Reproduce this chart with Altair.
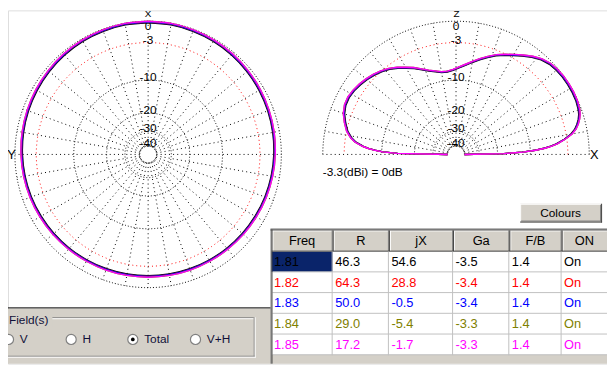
import altair as alt
import numpy as np
import pandas as pd

# ---------------- data ----------------
freqs = ["1.81", "1.82", "1.83", "1.84", "1.85"]
series_colors = ["#000000", "#ff0000", "#0000ff", "#808000", "#ff00ff"]
headers = ["Freq", "R", "jX", "Ga", "F/B", "ON"]
R_vals = ["46.3", "64.3", "50.0", "29.0", "17.2"]
jX_vals = ["54.6", "28.8", "-0.5", "-5.4", "-1.7"]
Ga_vals = ["-3.5", "-3.4", "-3.4", "-3.3", "-3.3"]
FB_vals = ["1.4", "1.4", "1.4", "1.4", "1.4"]
ON_vals = ["On", "On", "On", "On", "On"]
ref_gain = -3.3  # dBi = 0 dB

ring_db = [0, -3, -10, -20, -30, -40]
ring_text = ["0", "-3", "-10", "-20", "-30", "-40"]

# azimuth pattern (deg from X toward Y, symmetric), dB
az_angle = [0, 10, 20, 30, 40, 50, 60, 70, 80, 90, 100, 110, 120, 130, 140, 150, 160, 170, 180]
az_db = [0.0, -0.02, -0.08, -0.15, -0.25, -0.36, -0.47, -0.58, -0.69, -0.8, -0.9, -1.0,
         -1.1, -1.18, -1.26, -1.32, -1.36, -1.39, -1.4]

# elevation pattern (deg from +X over Z to -X), dB
el_angle = [0, 1, 2, 3, 4, 5, 6, 8, 10, 12, 14, 16, 18, 20, 24, 28, 32, 36, 40, 44, 48, 52,
            56, 60, 64, 68, 72, 76, 80, 84, 88, 92, 96, 100, 104, 108, 112, 116, 120, 124,
            128, 132, 136, 140, 144, 148, 152, 156, 160, 164, 168, 171, 173, 175, 176, 177,
            178, 179, 180]
el_db = [-40, -17.5, -11.8, -8.8, -6.9, -5.6, -4.6, -3.2, -2.1, -1.4, -0.95, -0.6, -0.35, -0.2,
         -0.05, 0, 0, -0.02, -0.1, -0.25, -0.6, -1.15, -1.8, -2.45, -3.05, -3.65, -4.4, -5.15,
         -5.9, -6.6, -7.2, -7.7, -7.95, -7.9, -7.5, -7.0, -6.3, -5.5, -4.8, -4.05, -3.4, -2.9,
         -2.5, -2.15, -1.85, -1.6, -1.45, -1.5, -1.8, -2.35, -3.0, -3.8, -4.6, -6.0, -7.0, -8.3,
         -10.2, -14, -40]
assert len(el_angle) == len(el_db)

# ---------------- layout ----------------
R0 = 135.0
AZC = (150.0, 154.0)
ELC = (462.0, 154.0)
FONT = "Liberation Sans"
NFONT = "Liberation Sans Narrow, Liberation Sans"
GRAY = "#d4d0c8"


def rad(db):
    db = np.asarray(db, dtype=float)
    f_log = 0.89 ** (-np.maximum(db, -30) / 2.0)
    f_low = np.interp(db, [-40, -30], [0.063, 0.89 ** 15])
    return R0 * np.where(db >= -30, f_log, f_low)


def az_xy(ang, r):
    a = np.radians(ang)
    return AZC[0] - r * np.sin(a), AZC[1] - r * np.cos(a)


def el_xy(ang, r):
    a = np.radians(ang)
    return ELC[0] + r * np.cos(a), ELC[1] - r * np.sin(a)


xs = alt.Scale(domain=[8, 615], nice=False, zero=False)
ys = alt.Scale(domain=[8, 366], nice=False, zero=False, reverse=True)


def X(f):
    return alt.X(f, type="quantitative", scale=xs, axis=None)


def Y(f):
    return alt.Y(f, type="quantitative", scale=ys, axis=None)


layers = []

# ---------- background panels ----------
rects = pd.DataFrame([
    dict(x=0, x2=275, y=310, y2=366, c=GRAY),
    dict(x=275, x2=615, y=357, y2=366, c=GRAY),
    dict(x=527, x2=610, y=204, y2=223, c=GRAY),
    dict(x=275, x2=615, y=231, y2=252, c=GRAY),
    dict(x=275, x2=337, y=252.5, y2=273, c="#0a246a"),
])
layers.append(alt.Chart(rects).mark_rect().encode(
    x=X("x"), x2="x2", y=Y("y"), y2="y2", color=alt.Color("c:N", scale=None)))

# ---------- rings ----------
ring_rows = []
for pname, center_fn, amax in [("az", az_xy, 360), ("el", el_xy, 180)]:
    angs = np.linspace(0, amax, amax * 2 + 1)
    for db in ring_db:
        r = float(rad(db))
        px, py = center_fn(angs, r)
        for k, (a, b) in enumerate(zip(px, py)):
            ring_rows.append(dict(id=f"{pname}{db}", red=(db == -3), k=k, x=a, y=b))
ring_df = pd.DataFrame(ring_rows)
layers.append(alt.Chart(ring_df[~ring_df.red]).mark_line(
    color="black", strokeWidth=1, strokeDash=[1, 2]).encode(
    x=X("x"), y=Y("y"), detail="id:N", order="k:Q"))
layers.append(alt.Chart(ring_df[ring_df.red]).mark_line(
    color="#ff0000", strokeWidth=1, strokeDash=[1, 3]).encode(
    x=X("x"), y=Y("y"), detail="id:N", order="k:Q"))

# ---------- radial lines ----------
rad_rows = []
r_in, r_out = float(rad(-40)), float(rad(0))
for a in range(0, 360, 10):
    x1, y1 = az_xy(a, r_in)
    x2, y2 = az_xy(a, r_out)
    rad_rows.append(dict(x=x1, y=y1, x2=x2, y2=y2))
for a in range(0, 181, 10):
    x1, y1 = el_xy(a, r_in)
    x2, y2 = el_xy(a, r_out)
    rad_rows.append(dict(x=x1, y=y1, x2=x2, y2=y2))
layers.append(alt.Chart(pd.DataFrame(rad_rows)).mark_rule(
    color="black", strokeWidth=1, strokeDash=[1, 3.2]).encode(
    x=X("x"), y=Y("y"), x2="x2", y2="y2"))

# ---------- ring labels ----------
lab_rows = []
for db, t in zip(ring_db, ring_text):
    r = float(rad(db))
    dy = 3 if db != 0 else -5
    for cx in (AZC[0], ELC[0]):
        lab_rows.append(dict(x=cx, y=AZC[1] - r - dy, t=t))
layers.append(alt.Chart(pd.DataFrame(lab_rows)).mark_text(
    font=NFONT, fontSize=12, align="center", baseline="middle", color="black").encode(
    x=X("x"), y=Y("y"), text="t:N"))

# ---------- patterns ----------
az_rows, el_rows = [], []
az_full = np.concatenate([az_angle, 360 - np.array(az_angle[-2::-1])])
az_full_db = np.concatenate([az_db, np.array(az_db[-2::-1])])
for f, g in zip(freqs, Ga_vals):
    off = float(g) - ref_gain
    dba = np.maximum(az_full_db + off, -40)
    px, py = az_xy(az_full, rad(dba))
    for k, (a, b) in enumerate(zip(px, py)):
        az_rows.append(dict(freq=f, k=k, x=a, y=b))
    dbe = np.array(el_db, dtype=float)
    dbe = np.where(dbe <= -40, -40, np.maximum(dbe + off, -40))
    px, py = el_xy(np.array(el_angle, dtype=float), rad(dbe))
    for k, (a, b) in enumerate(zip(px, py)):
        el_rows.append(dict(freq=f, k=k, x=a, y=b))
col_enc = alt.Color("freq:N", scale=alt.Scale(domain=freqs, range=series_colors), legend=None)
layers.append(alt.Chart(pd.DataFrame(az_rows)).mark_line(
    strokeWidth=1.4, interpolate="catmull-rom").encode(
    x=X("x"), y=Y("y"), color=col_enc, order="k:Q"))
layers.append(alt.Chart(pd.DataFrame(el_rows)).mark_line(strokeWidth=1.4).encode(
    x=X("x"), y=Y("y"), color=col_enc, order="k:Q"))

# ---------- axis letters & caption ----------
top_letters = pd.DataFrame([
    dict(x=AZC[0], y=12, t="X"),
    dict(x=ELC[0] + 0.5, y=12, t="Z"),
])
layers.append(alt.Chart(top_letters).mark_text(
    font=NFONT, fontSize=10, align="center", baseline="middle", color="black").encode(
    x=X("x"), y=Y("y"), text="t:N"))
side_letters = pd.DataFrame([
    dict(x=11.5, y=155, t="Y"),
    dict(x=602, y=155, t="X"),
])
layers.append(alt.Chart(side_letters).mark_text(
    font=NFONT, fontSize=13, align="center", baseline="middle", color="black").encode(
    x=X("x"), y=Y("y"), text="t:N"))
cap = pd.DataFrame([dict(x=327, y=172, t=f"{ref_gain}(dBi) = 0dB")])
layers.append(alt.Chart(cap).mark_text(
    font=NFONT, fontSize=12, align="left", baseline="middle", color="black").encode(
    x=X("x"), y=Y("y"), text="t:N"))

# ---------- table ----------
col_edges = [275, 337, 394, 459, 516, 569, 615]
hdr_top, hdr_bot, row_h = 231, 252.5, 21
rule_rows = []


def rule(x, y, x2, y2, c, w=1):
    rule_rows.append(dict(x=x, y=y, x2=x2, y2=y2, c=c, w=w))


# header borders
rule(275, 231.5, 615, 231.5, "#ffffff")
for i in range(6):
    rule(col_edges[i] + 1.5, 231, col_edges[i] + 1.5, 252, "#ffffff")
for e in col_edges[1:-1]:
    rule(e - 0.5, 231, e - 0.5, 252, "#808080")
    rule(e + 0.5, 231, e + 0.5, 252, "#404040")
rule(275, 252, 615, 252, "#404040")
# body grid
n_rows = len(freqs)
for i in range(1, n_rows + 1):
    yy = hdr_bot + i * row_h - 0.5
    rule(276, yy, 615, yy, "#c0c0c0")
for e in col_edges[1:-1]:
    rule(e - 0.5, 252.5, e - 0.5, hdr_bot + n_rows * row_h, "#c0c0c0")
# outer sunken border
rule(274.5, 230, 274.5, 366, "#808080")
rule(275.5, 230, 275.5, 366, "#404040")
rule(274, 229.5, 615, 229.5, "#808080")
rule(274, 230.5, 615, 230.5, "#404040")
# panel line
rule(0, 309.5, 274, 309.5, "#000000")
# Colours button
rule(527, 204.5, 610, 204.5, "#ffffff")
rule(527.5, 204, 527.5, 223, "#ffffff")
rule(527, 222.5, 610, 222.5, "#404040")
rule(609.5, 204, 609.5, 223, "#404040")
rule(528, 221.5, 609, 221.5, "#808080")
rule(608.5, 205, 608.5, 222, "#808080")
# group box (etched)
rule(0, 319.5, 257, 319.5, "#808080")
rule(0, 320.5, 257, 320.5, "#ffffff")
rule(257.5, 319, 257.5, 359, "#808080")
rule(258.5, 319, 258.5, 360, "#ffffff")
rule(0, 358.5, 258, 358.5, "#808080")
rule(0, 359.5, 259, 359.5, "#ffffff")
layers.append(alt.Chart(pd.DataFrame(rule_rows)).mark_rule().encode(
    x=X("x"), y=Y("y"), x2="x2", y2="y2",
    color=alt.Color("c:N", scale=None), strokeWidth=alt.StrokeWidth("w:Q", scale=None)))

# field label background
lbl_bg = pd.DataFrame([dict(x=7, x2=53, y=314, y2=328, c=GRAY)])
layers.append(alt.Chart(lbl_bg).mark_rect().encode(
    x=X("x"), x2="x2", y=Y("y"), y2="y2", color=alt.Color("c:N", scale=None)))

# header text
hdr_df = pd.DataFrame([dict(x=(col_edges[i] + col_edges[i + 1]) / 2, y=242, t=h)
                       for i, h in enumerate(headers)])
layers.append(alt.Chart(hdr_df).mark_text(
    font=FONT, fontSize=13, align="center", baseline="middle", color="black").encode(
    x=X("x"), y=Y("y"), text="t:N"))

# body text
cols = [freqs, R_vals, jX_vals, Ga_vals, FB_vals, ON_vals]
body = []
for r_i in range(n_rows):
    for c_i, colvals in enumerate(cols):
        body.append(dict(x=col_edges[c_i] + 2.5, y=hdr_bot + r_i * row_h + 10.5,
                         t=colvals[r_i], c=series_colors[r_i]))
layers.append(alt.Chart(pd.DataFrame(body)).mark_text(
    font=FONT, fontSize=13, align="left", baseline="middle").encode(
    x=X("x"), y=Y("y"), text="t:N", color=alt.Color("c:N", scale=None)))

# button & group texts
ui_text = pd.DataFrame([dict(x=568, y=213.5, t="Colours")])
layers.append(alt.Chart(ui_text).mark_text(
    font=FONT, fontSize=12, align="center", baseline="middle", color="black").encode(
    x=X("x"), y=Y("y"), text="t:N"))

field_opts = ["V", "H", "Total", "V+H"]
radio_x = [8.5, 72, 134.5, 198]
opt_df = pd.DataFrame([dict(x=rx + 11.5, y=341.5, t=t) for rx, t in zip(radio_x, field_opts)]
                      + [dict(x=9, y=321.5, t="Field(s)")])
layers.append(alt.Chart(opt_df).mark_text(
    font=FONT, fontSize=12, align="left", baseline="middle", color="#101038").encode(
    x=X("x"), y=Y("y"), text="t:N"))

radio_df = pd.DataFrame([dict(x=rx, y=341.5) for rx in radio_x])
layers.append(alt.Chart(radio_df).mark_point(
    shape="circle", filled=True, fill="white", stroke="#808080", strokeWidth=1.2,
    size=105, opacity=1).encode(x=X("x"), y=Y("y")))
sel_df = pd.DataFrame([dict(x=radio_x[field_opts.index("Total")], y=341.5)])
layers.append(alt.Chart(sel_df).mark_point(
    shape="circle", filled=True, color="black", size=14, opacity=1).encode(
    x=X("x"), y=Y("y")))

chart = alt.layer(*layers).properties(
    width=607, height=358,
    autosize=alt.AutoSizeParams(type="none"),
    padding=0,
).configure_view(stroke=None).configure(background="white")

chart.save("out.html", embed_options={"renderer": "svg", "actions": False})
